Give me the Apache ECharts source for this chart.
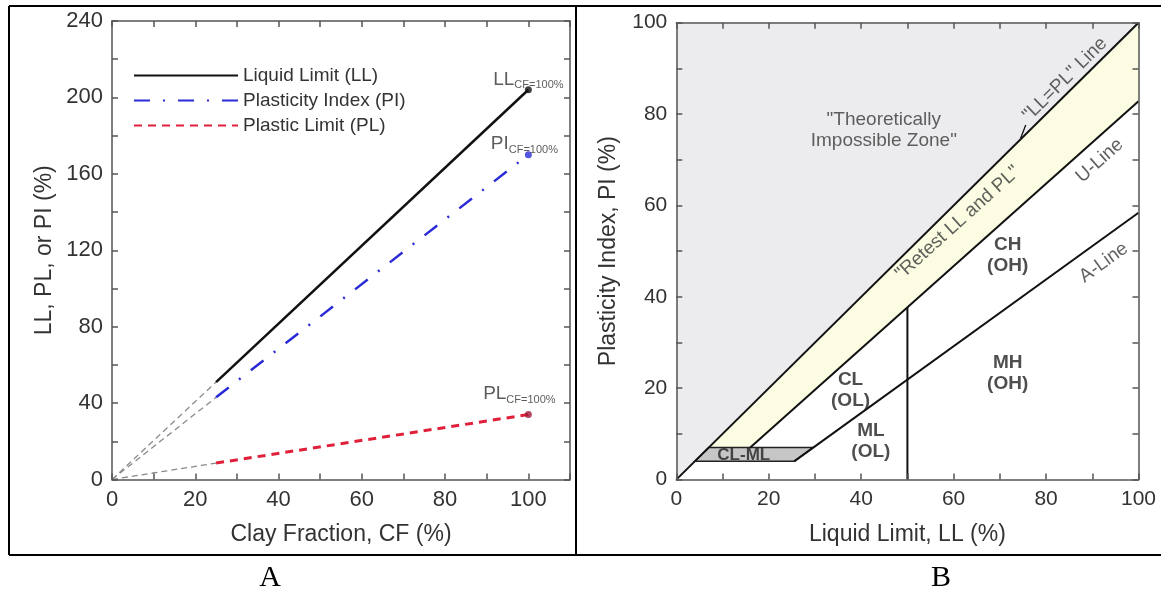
<!DOCTYPE html>
<html>
<head>
<meta charset="utf-8">
<script src="https://cdn.jsdelivr.net/npm/echarts@6/dist/echarts.min.js"></script>
<style>
html, body { margin: 0; padding: 0; background: #fff; }
#main { width: 1161px; height: 594px; }
</style>
</head>
<body>
<div id="main"></div>
<script>
// ---- A: limits vs clay fraction ----
var cfPoints = [25, 100];
var llValues = [51, 204];
var piValues = [43, 170];
var plValues = [8.6, 34];
var seriesNames = ['Liquid Limit (LL)', 'Plasticity Index (PI)', 'Plastic Limit (PL)'];
var endLabels = ['LL', 'PI', 'PL'];

// ---- B: plasticity chart ----
var eqLine = [[0, 0], [100, 100]];
var uLine = [[16, 7], [100, 82.8]];
var aLine = [[25.5, 4], [100, 58.4]];
var llFifty = [[50, 0], [50, 37.8]];
var leader = [[74.5, 74.7], [75.6, 77.6]];
var impossibleZone = [[0, 0], [0, 100], [100, 100]];
var retestBand = [[7, 7], [100, 100], [100, 82.8], [16, 7]];
var clmlZone = [[4, 4], [7, 7], [29.6, 7], [25.5, 4]];
var zoneText = ['"Theoretically\nImpossible Zone"', '"LL=PL" Line', 'U-Line', 'A-Line',
  '"Retest LL and PL"', 'CH\n(OH)', 'MH\n(OH)', 'CL\n(OL)', 'ML\n(OL)', 'CL-ML'];
var zoneAt = [[44.9, 76.5], [84.1, 87.6], [91.6, 69.8], [92.5, 47.5], [60.9, 56.2],
  [71.7, 49], [71.7, 23.3], [37.7, 19.5], [42.1, 8.4], [14.6, 5.4]];

var font = '"Liberation Sans", Arial, sans-serif';
var axisColor = '#555';
var zoneRotate = [0, 44.7, 41.7, 35.8, 42, 0, 0, 0, 0, 0];
var zoneBold = [0, 0, 0, 0, 0, 1, 1, 1, 1, 1];
var zoneSize = [19, 19, 19, 19, 19, 19, 19, 19, 19, 17];

function pairs(xs, ys) {
  return xs.map(function (x, i) { return [x, ys[i]]; });
}

function mkAxis(gridIndex, position, max, step, labelEvery, withLabels, fontSize) {
  return {
    type: 'value', gridIndex: gridIndex, position: position,
    min: 0, max: max, interval: step, z: 5,
    axisLine: { show: true, onZero: false, lineStyle: { color: axisColor, width: 1.5 } },
    axisTick: { show: true, inside: true, length: 6, lineStyle: { color: axisColor, width: 1.5 } },
    splitLine: { show: false },
    axisLabel: {
      show: withLabels, color: '#333', fontSize: fontSize, fontFamily: font, margin: 9,
      formatter: function (v) { return v % labelEvery === 0 ? String(v) : ''; }
    },
    nameTextStyle: { color: '#333', fontSize: 23, fontFamily: font },
    nameLocation: 'middle'
  };
}

var xA = mkAxis(0, 'bottom', 110, 10, 20, true, 22);
xA.name = 'Clay Fraction, CF (%)'; xA.nameGap = 44;
var yA = mkAxis(0, 'left', 240, 20, 40, true, 22);
yA.name = 'LL, PL, or PI (%)'; yA.nameGap = 56;
var xB = mkAxis(1, 'bottom', 100, 10, 20, true, 21);
xB.name = 'Liquid Limit, LL (%)'; xB.nameGap = 44;
var yB = mkAxis(1, 'left', 100, 10, 20, true, 21);
yB.name = 'Plasticity Index, PI (%)'; yB.nameGap = 56;

function polySeries(poly, fill, stroke) {
  return {
    type: 'custom', xAxisIndex: 2, yAxisIndex: 2, z: 1, silent: true,
    data: poly,
    renderItem: function (params, api) {
      if (params.dataIndex !== 0) return;
      return {
        type: 'polygon',
        shape: { points: poly.map(function (p) { return api.coord(p); }) },
        style: { fill: fill, stroke: stroke || null, lineWidth: stroke ? 1.5 : 0 }
      };
    }
  };
}

function segB(data, width) {
  return {
    type: 'line', xAxisIndex: 2, yAxisIndex: 2, z: 3, symbol: 'none', silent: true,
    data: data, lineStyle: { color: '#111', width: width || 2 }
  };
}

function extLine(y) {
  return {
    type: 'line', xAxisIndex: 0, yAxisIndex: 0, symbol: 'none', silent: true,
    data: [[0, 0], [cfPoints[0], y]],
    lineStyle: { color: '#8a8a8a', width: 1.3, type: [6, 4] }
  };
}

var lineColors = ['#111111', '#2a2ad6', '#e0203a'];
var dotColors = ['#111111', '#2a2ad6', '#a01838'];
var lineDashes = ['solid', [16, 13, 2, 13], [8, 6]];
var lineWidths = [2.5, 2.5, 3];
var vals = [llValues, piValues, plValues];

var series = [extLine(llValues[0]), extLine(piValues[0]), extLine(plValues[0])];
vals.forEach(function (v, i) {
  series.push({
    name: seriesNames[i], type: 'line', xAxisIndex: 0, yAxisIndex: 0,
    symbol: 'none', data: pairs(cfPoints, v), z: 3,
    lineStyle: { color: lineColors[i], width: lineWidths[i], type: lineDashes[i] },
    itemStyle: { color: lineColors[i] }
  });
});
var endOffsets = [[0, 4], [-4, 4], [-9, -6]];
series.push({
  type: 'scatter', xAxisIndex: 0, yAxisIndex: 0, symbolSize: 7, z: 4,
  data: vals.map(function (v, i) {
    return {
      value: [cfPoints[1], v[1]],
      itemStyle: { color: dotColors[i] },
      label: { offset: endOffsets[i] }
    };
  }),
  label: {
    show: true, position: 'top', distance: 0,
    formatter: function (p) { return endLabels[p.dataIndex] + '{s|CF=100%}'; },
    color: '#333', fontSize: 19, fontFamily: font, lineHeight: 22,
    rich: { s: { fontSize: 11, fontFamily: font, color: '#333', lineHeight: 12, verticalAlign: 'bottom' } }
  }
});

series.push(polySeries(impossibleZone, '#ececef'));
series.push(polySeries(retestBand, '#fcfce3'));
series.push(polySeries(clmlZone, '#c6c6c6', '#222'));
series.push(segB(eqLine));
series.push(segB(uLine));
series.push(segB(aLine));
series.push(segB(llFifty));
series.push(segB(leader, 1.3));
series.push({
  type: 'scatter', xAxisIndex: 2, yAxisIndex: 2, symbolSize: 0, z: 6, silent: true,
  data: zoneText.map(function (t, i) {
    return {
      value: zoneAt[i], name: t,
      label: {
        rotate: zoneRotate[i], fontSize: zoneSize[i],
        fontWeight: zoneBold[i] ? 'bold' : 'normal', color: zoneBold[i] ? '#222' : '#3a3a3a'
      }
    };
  }),
  label: {
    show: true, position: 'inside', formatter: '{b}', align: 'center',
    fontSize: 19, fontFamily: font, lineHeight: 21
  }
});

var chart = echarts.init(document.getElementById('main'));
chart.setOption({
  animation: false,
  backgroundColor: '#fff',
  grid: [
    { left: 112, top: 21, width: 458, height: 458.5, containLabel: false, outerBoundsMode: 'none' },
    { left: 676.3, top: 22.7, width: 462.2, height: 456.9, containLabel: false, outerBoundsMode: 'none' }
  ],
  xAxis: [xA, mkAxis(0, 'top', 110, 10, 20, false, 22), xB, mkAxis(1, 'top', 100, 10, 20, false, 21)],
  yAxis: [yA, mkAxis(0, 'right', 240, 20, 40, false, 22), yB, mkAxis(1, 'right', 100, 10, 20, false, 21)],
  legend: {
    data: seriesNames, orient: 'vertical', left: 128, top: 60.5,
    itemWidth: 104, itemHeight: 14, itemGap: 5,
    itemStyle: { opacity: 0 },
    textStyle: { color: '#333', fontSize: 19, fontFamily: font, lineHeight: 20 }
  },
  graphic: [
    { type: 'line', shape: { x1: 9, y1: 6, x2: 1161, y2: 6 }, style: { stroke: '#000', lineWidth: 2 } },
    { type: 'line', shape: { x1: 9, y1: 555, x2: 1161, y2: 555 }, style: { stroke: '#000', lineWidth: 2 } },
    { type: 'line', shape: { x1: 9, y1: 6, x2: 9, y2: 555 }, style: { stroke: '#000', lineWidth: 2 } },
    { type: 'line', shape: { x1: 576, y1: 6, x2: 576, y2: 555 }, style: { stroke: '#000', lineWidth: 2 } },
    { type: 'text', x: 270, y: 578, style: { text: 'A', font: '30px "Liberation Serif", "Times New Roman", serif', fill: '#000', align: 'center', verticalAlign: 'middle' } },
    { type: 'text', x: 941, y: 578, style: { text: 'B', font: '30px "Liberation Serif", "Times New Roman", serif', fill: '#000', align: 'center', verticalAlign: 'middle' } }
  ],
  series: series
});
</script>
</body>
</html>
